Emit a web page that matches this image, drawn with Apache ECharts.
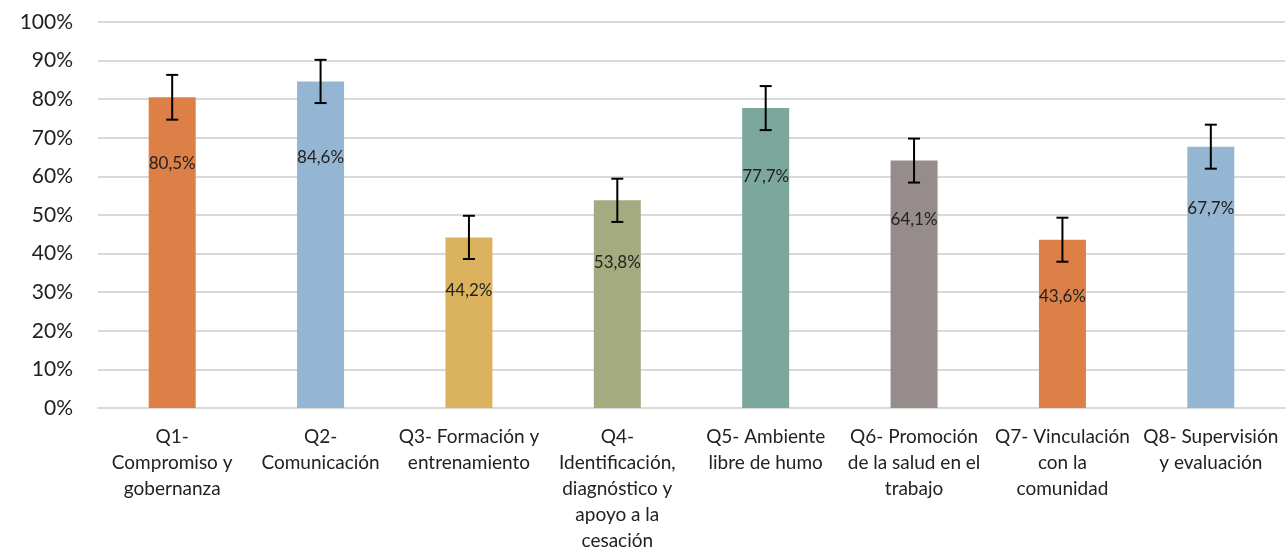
<!DOCTYPE html>
<html><head><meta charset="utf-8">
<script src="https://cdn.jsdelivr.net/npm/echarts@6/dist/echarts.min.js"></script>
<style>html,body{margin:0;padding:0;background:#fff}#c{width:1287px;height:547px}</style>
</head><body><div id="c"></div>
<script>
const categories = [
  "Q1-\nCompromiso y\ngobernanza",
  "Q2-\nComunicación",
  "Q3- Formación y\nentrenamiento",
  "Q4-\nIdentificación,\ndiagnóstico y\napoyo a la\ncesación",
  "Q5- Ambiente\nlibre de humo",
  "Q6- Promoción\nde la salud en el\ntrabajo",
  "Q7- Vinculación\ncon la\ncomunidad",
  "Q8- Supervisión\ny evaluación"
];
const values = [80.5, 84.6, 44.2, 53.8, 77.7, 64.1, 43.6, 67.7];
const errLow = [74.7, 79.0, 38.6, 48.2, 72.0, 58.4, 37.9, 62.0];
const errHigh = [86.3, 90.2, 49.8, 59.4, 83.4, 69.8, 49.3, 73.4];
const yTicks = [0, 10, 20, 30, 40, 50, 60, 70, 80, 90, 100];

const colors = ['#DD8047', '#94B6D2', '#DBB35E', '#A5AB81', '#7BA79D', '#968C8C', '#DD8047', '#94B6D2'];
const labelDist = [58, 68, 45, 54, 60, 50, 48, 53];
const FONT = 'Lato, "Open Sans", sans-serif';

const chart = echarts.init(document.getElementById('c'), null, {renderer: 'canvas'});
chart.setOption({
  animation: false,
  grid: {left: 98, right: 2, top: 22, bottom: 139, containLabel: false, outerBoundsMode: 'none'},
  xAxis: {
    type: 'category', data: categories,
    axisTick: {show: false},
    axisLine: {lineStyle: {color: '#D9D9D9', width: 2}},
    axisLabel: {color: '#222', fontFamily: FONT, fontSize: 19, lineHeight: 26, margin: 16, interval: 0, align: 'center'}
  },
  yAxis: {
    type: 'value', min: yTicks[0], max: yTicks[yTicks.length - 1], interval: 10,
    axisLine: {show: false}, axisTick: {show: false},
    axisLabel: {formatter: '{value}%', color: '#222', fontFamily: FONT, fontSize: 21, margin: 25},
    splitLine: {lineStyle: {color: '#D9D9D9', width: 2}}
  },
  series: [{
    type: 'bar', barWidth: 47,
    data: values.map((v, i) => ({
      value: v,
      itemStyle: {color: colors[i]},
      label: {show: true, position: 'insideTop', distance: labelDist[i],
        formatter: () => v.toFixed(1).replace('.', ',') + '%',
        color: '#222', fontFamily: FONT, fontSize: 17}
    }))
  }, {
    type: 'custom',
    z: 10,
    data: errLow.map((lo, i) => [i, lo, errHigh[i]]),
    renderItem: function (params, api) {
      const x = api.value(0);
      const lo = api.coord([x, api.value(1)]);
      const hi = api.coord([x, api.value(2)]);
      const cap = 6;
      const style = {stroke: '#000', lineWidth: 2};
      return {type: 'group', children: [
        {type: 'line', shape: {x1: lo[0], y1: lo[1], x2: hi[0], y2: hi[1]}, style},
        {type: 'line', shape: {x1: lo[0] - cap, y1: lo[1], x2: lo[0] + cap, y2: lo[1]}, style},
        {type: 'line', shape: {x1: hi[0] - cap, y1: hi[1], x2: hi[0] + cap, y2: hi[1]}, style}
      ]};
    }
  }]
});
</script></body></html>
